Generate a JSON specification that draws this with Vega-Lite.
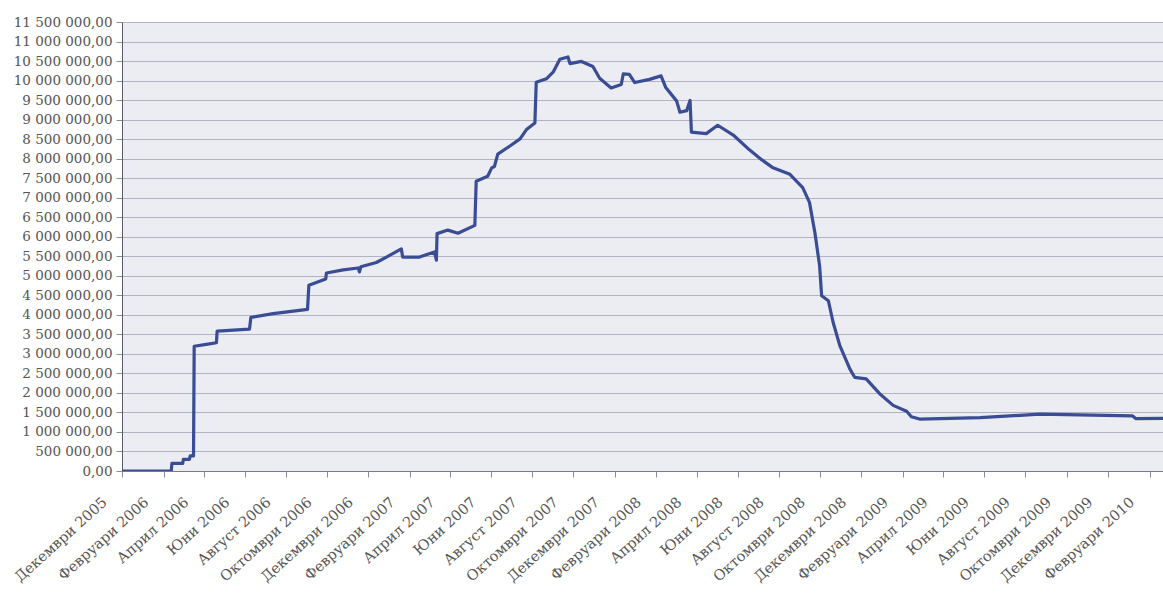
{
  "$schema": "https://vega.github.io/schema/vega-lite/v6.json",
  "width": 1041,
  "height": 449,
  "autosize": "none",
  "padding": {"left": 122, "top": 22, "right": 0, "bottom": 122},
  "background": "#ffffff",
  "config": {
    "view": {"fill": "#ececf3", "stroke": "#bcbcc8", "strokeWidth": 1},
    "axis": {"labelFont": "DejaVu Serif", "labelColor": "#555555"}
  },
  "data": {
    "values": [
      {"date": "2005-12-01", "value": 0},
      {"date": "2006-02-12", "value": 0},
      {"date": "2006-02-13", "value": 195000},
      {"date": "2006-03-01", "value": 195000},
      {"date": "2006-03-02", "value": 300000},
      {"date": "2006-03-11", "value": 300000},
      {"date": "2006-03-12", "value": 385000},
      {"date": "2006-03-17", "value": 385000},
      {"date": "2006-03-18", "value": 3195000},
      {"date": "2006-04-05", "value": 3245000},
      {"date": "2006-04-20", "value": 3285000},
      {"date": "2006-04-21", "value": 3585000},
      {"date": "2006-06-08", "value": 3635000},
      {"date": "2006-06-10", "value": 3935000},
      {"date": "2006-07-13", "value": 4030000},
      {"date": "2006-09-02", "value": 4140000},
      {"date": "2006-09-04", "value": 4760000},
      {"date": "2006-09-29", "value": 4920000},
      {"date": "2006-09-30", "value": 5070000},
      {"date": "2006-10-25", "value": 5150000},
      {"date": "2006-11-16", "value": 5200000},
      {"date": "2006-11-18", "value": 5100000},
      {"date": "2006-11-20", "value": 5230000},
      {"date": "2006-12-13", "value": 5340000},
      {"date": "2006-12-28", "value": 5480000},
      {"date": "2007-01-19", "value": 5690000},
      {"date": "2007-01-21", "value": 5480000},
      {"date": "2007-02-15", "value": 5480000},
      {"date": "2007-03-09", "value": 5610000},
      {"date": "2007-03-12", "value": 5400000},
      {"date": "2007-03-13", "value": 6080000},
      {"date": "2007-03-29", "value": 6170000},
      {"date": "2007-04-13", "value": 6090000},
      {"date": "2007-05-08", "value": 6290000},
      {"date": "2007-05-10", "value": 7420000},
      {"date": "2007-05-27", "value": 7550000},
      {"date": "2007-06-02", "value": 7765000},
      {"date": "2007-06-06", "value": 7800000},
      {"date": "2007-06-11", "value": 8115000},
      {"date": "2007-06-29", "value": 8325000},
      {"date": "2007-07-14", "value": 8505000},
      {"date": "2007-07-24", "value": 8755000},
      {"date": "2007-08-05", "value": 8915000},
      {"date": "2007-08-07", "value": 9955000},
      {"date": "2007-08-22", "value": 10045000},
      {"date": "2007-09-01", "value": 10215000},
      {"date": "2007-09-11", "value": 10545000},
      {"date": "2007-09-23", "value": 10605000},
      {"date": "2007-09-26", "value": 10435000},
      {"date": "2007-10-13", "value": 10490000},
      {"date": "2007-10-30", "value": 10360000},
      {"date": "2007-11-09", "value": 10060000},
      {"date": "2007-11-26", "value": 9810000},
      {"date": "2007-12-11", "value": 9900000},
      {"date": "2007-12-14", "value": 10170000},
      {"date": "2007-12-23", "value": 10160000},
      {"date": "2007-12-31", "value": 9950000},
      {"date": "2008-01-22", "value": 10030000},
      {"date": "2008-02-08", "value": 10120000},
      {"date": "2008-02-15", "value": 9820000},
      {"date": "2008-03-02", "value": 9480000},
      {"date": "2008-03-07", "value": 9190000},
      {"date": "2008-03-17", "value": 9230000},
      {"date": "2008-03-22", "value": 9490000},
      {"date": "2008-03-24", "value": 8680000},
      {"date": "2008-04-15", "value": 8640000},
      {"date": "2008-05-02", "value": 8855000},
      {"date": "2008-05-25", "value": 8605000},
      {"date": "2008-06-18", "value": 8225000},
      {"date": "2008-07-06", "value": 7975000},
      {"date": "2008-07-23", "value": 7765000},
      {"date": "2008-08-17", "value": 7600000},
      {"date": "2008-09-05", "value": 7260000},
      {"date": "2008-09-15", "value": 6880000},
      {"date": "2008-09-23", "value": 6110000},
      {"date": "2008-09-30", "value": 5260000},
      {"date": "2008-10-03", "value": 4490000},
      {"date": "2008-10-13", "value": 4360000},
      {"date": "2008-10-20", "value": 3810000},
      {"date": "2008-10-30", "value": 3210000},
      {"date": "2008-11-14", "value": 2610000},
      {"date": "2008-11-21", "value": 2400000},
      {"date": "2008-12-08", "value": 2360000},
      {"date": "2008-12-28", "value": 1980000},
      {"date": "2009-01-17", "value": 1680000},
      {"date": "2009-02-06", "value": 1530000},
      {"date": "2009-02-13", "value": 1390000},
      {"date": "2009-02-25", "value": 1330000},
      {"date": "2009-05-26", "value": 1365000},
      {"date": "2009-08-22", "value": 1455000},
      {"date": "2009-10-20", "value": 1440000},
      {"date": "2010-01-07", "value": 1410000},
      {"date": "2010-01-12", "value": 1340000},
      {"date": "2010-02-21", "value": 1350000}
    ]
  },
  "mark": {"type": "line", "color": "#3a4c94", "strokeWidth": 3.2, "strokeJoin": "round", "clip": true},
  "encoding": {
    "x": {
      "field": "date",
      "type": "temporal",
      "title": null,
      "scale": {
        "type": "utc",
        "domain": [
          {"year": 2005, "month": 12, "date": 1, "utc": true},
          {"year": 2010, "month": 2, "date": 21, "utc": true}
        ]
      },
      "axis": {
        "values": [
          {"year": 2005, "month": 12, "date": 1, "utc": true},
          {"year": 2006, "month": 2, "date": 1, "utc": true},
          {"year": 2006, "month": 4, "date": 1, "utc": true},
          {"year": 2006, "month": 6, "date": 1, "utc": true},
          {"year": 2006, "month": 8, "date": 1, "utc": true},
          {"year": 2006, "month": 10, "date": 1, "utc": true},
          {"year": 2006, "month": 12, "date": 1, "utc": true},
          {"year": 2007, "month": 2, "date": 1, "utc": true},
          {"year": 2007, "month": 4, "date": 1, "utc": true},
          {"year": 2007, "month": 6, "date": 1, "utc": true},
          {"year": 2007, "month": 8, "date": 1, "utc": true},
          {"year": 2007, "month": 10, "date": 1, "utc": true},
          {"year": 2007, "month": 12, "date": 1, "utc": true},
          {"year": 2008, "month": 2, "date": 1, "utc": true},
          {"year": 2008, "month": 4, "date": 1, "utc": true},
          {"year": 2008, "month": 6, "date": 1, "utc": true},
          {"year": 2008, "month": 8, "date": 1, "utc": true},
          {"year": 2008, "month": 10, "date": 1, "utc": true},
          {"year": 2008, "month": 12, "date": 1, "utc": true},
          {"year": 2009, "month": 2, "date": 1, "utc": true},
          {"year": 2009, "month": 4, "date": 1, "utc": true},
          {"year": 2009, "month": 6, "date": 1, "utc": true},
          {"year": 2009, "month": 8, "date": 1, "utc": true},
          {"year": 2009, "month": 10, "date": 1, "utc": true},
          {"year": 2009, "month": 12, "date": 1, "utc": true},
          {"year": 2010, "month": 2, "date": 1, "utc": true}
        ],
        "labelExpr": "['Януари','Февруари','Март','Април','Май','Юни','Юли','Август','Септември','Октомври','Ноември','Декември'][utcmonth(datum.value)] + ' ' + utcyear(datum.value)",
        "labelAngle": -42,
        "labelAlign": "right",
        "labelBaseline": "top",
        "labelFontSize": 14.5,
        "labelOffset": -22,
        "labelPadding": 18,
        "labelOverlap": false,
        "grid": false,
        "domainColor": "#7a7a86",
        "tickColor": "#8a8a96",
        "tickSize": 6
      }
    },
    "y": {
      "field": "value",
      "type": "quantitative",
      "title": null,
      "scale": {"domain": [0, 11500000], "nice": false},
      "axis": {
        "values": [0, 500000, 1000000, 1500000, 2000000, 2500000, 3000000, 3500000, 4000000, 4500000, 5000000, 5500000, 6000000, 6500000, 7000000, 7500000, 8000000, 8500000, 9000000, 9500000, 10000000, 10500000, 11000000, 11500000],
        "labelExpr": "replace(replace(format(datum.value, ',.2f'), regexp(',', 'g'), ' '), '.', ',')",
        "labelFontSize": 13.5,
        "labelOverlap": false,
        "labelPadding": 4,
        "tickSize": 6,
        "tickColor": "#8a8a96",
        "domainColor": "#5a5a66",
        "gridColor": "#b2b2c2",
        "gridOpacity": 1,
        "gridWidth": 1
      }
    }
  }
}
